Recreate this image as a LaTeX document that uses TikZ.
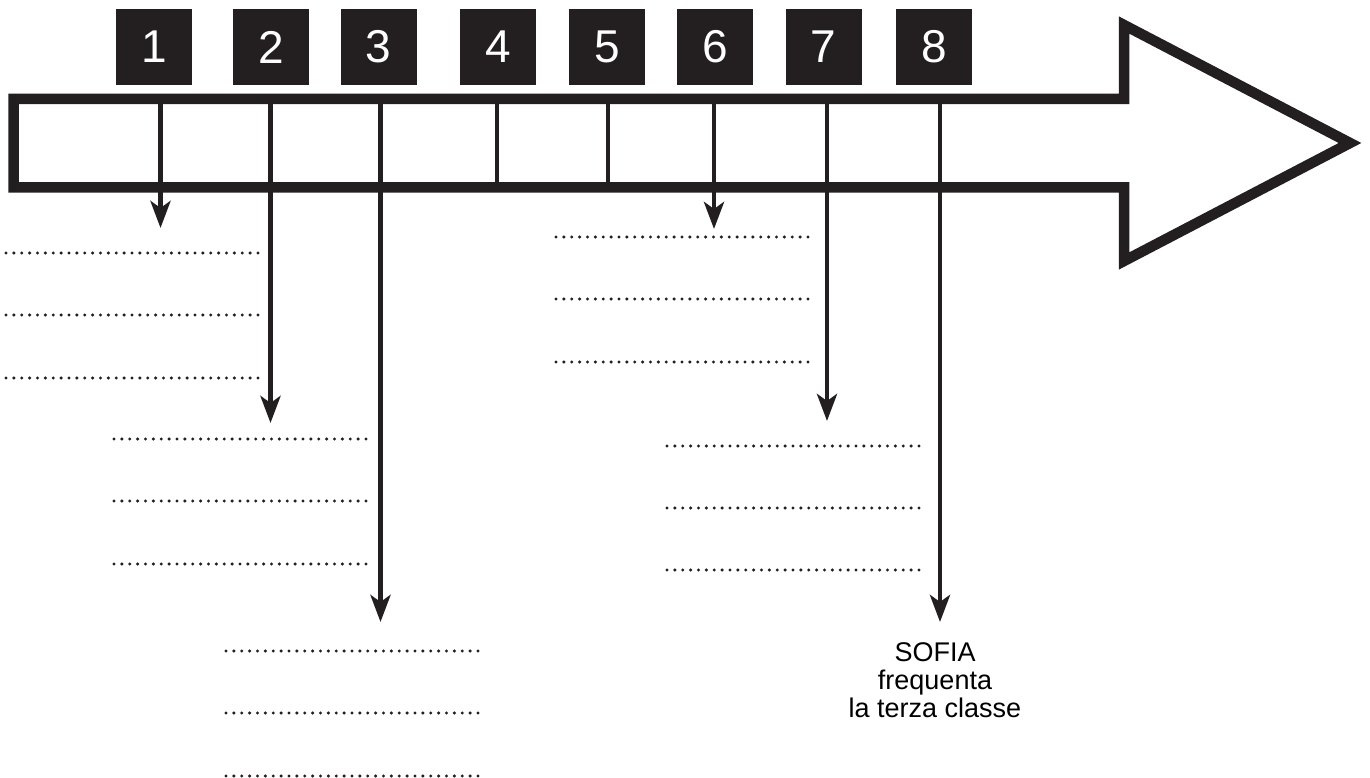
\documentclass[tikz,border=0pt]{standalone}
\usepackage{fontspec}
\setmainfont{Liberation Sans}
\usetikzlibrary{positioning, arrows.meta}
\definecolor{ink}{HTML}{231F20}

\begin{document}
\begin{tikzpicture}[x=1pt,y=-1pt]
	\tikzstyle{every node}=[inner sep=0pt];
	\tikzstyle{num}=[fill=ink,text=white,minimum size=76pt,font=\fontsize{46}{46}\selectfont];
	\tikzstyle{tick}=[draw=ink,line width=4.8pt];
	\tikzstyle{down}=[tick,-{Stealth[length=27pt,width=20pt,inset=7pt]}];
	\tikzstyle{blank}=[draw=ink,line width=3.3pt,line cap=round,dash pattern=on 0pt off 7.875pt];
	\useasboundingbox (0,0) rectangle (1370,778);
	% numbered boxes
	\node[num] (b1) at (154,47) {1};
	\node[num] (b2) at (271,47) {2};
	\node[num] (b3) at (378.5,47) {3};
	\node[num] (b4) at (498,47) {4};
	\node[num] (b5) at (607,47) {5};
	\node[num] (b6) at (715,47) {6};
	\node[num] (b7) at (823.5,47) {7};
	\node[num] (b8) at (934,47) {8};
	% dividers and their ends
	\coordinate (d1) at (160.5,99);  \coordinate (t1) at (160.5,228);
	\coordinate (d2) at (270.5,99);  \coordinate (t2) at (270.5,423);
	\coordinate (d3) at (380.5,99);  \coordinate (t3) at (380.5,622);
	\coordinate (d4) at (497,99);    \coordinate (e4) at (497,187);
	\coordinate (d5) at (608,99);    \coordinate (e5) at (608,187);
	\coordinate (d6) at (714,99);    \coordinate (t6) at (714,229);
	\coordinate (d7) at (827,99);    \coordinate (t7) at (827,421);
	\coordinate (d8) at (940,99);    \coordinate (t8) at (940,622);
	\draw[tick] (d4) -- (e4)(d5) -- (e5);
	\draw[down] (d1) -- (t1);
	\draw[down] (d2) -- (t2);
	\draw[down] (d3) -- (t3);
	\draw[down] (d6) -- (t6);
	\draw[down] (d7) -- (t7);
	\draw[down] (d8) -- (t8);
	% big arrow
	\draw[ink,line width=10.5pt] (13.5,99) -- (1124,99) -- (1124,25) -- (1350,143) -- (1124,261) -- (1124,187.5) -- (13.5,187.5) -- cycle;
	% blanks to fill in
	\draw[blank] (6,253) -- ++(252,0)(6,315) -- ++(252,0)(6,378) -- ++(252,0);
	\draw[blank] (114,439) -- ++(252,0)(114,501) -- ++(252,0)(114,564) -- ++(252,0);
	\draw[blank] (226,651) -- ++(252,0)(226,713) -- ++(252,0)(226,776) -- ++(252,0);
	\draw[blank] (556,237) -- ++(252,0)(556,299) -- ++(252,0)(556,362) -- ++(252,0);
	\draw[blank] (667,446) -- ++(252,0)(667,508) -- ++(252,0)(667,570) -- ++(252,0);
	\node[align=center,anchor=north,font=\fontsize{27}{28}\selectfont] (sofia) at (935,642) {SOFIA\\frequenta\\la terza classe};
\end{tikzpicture}
\end{document}
